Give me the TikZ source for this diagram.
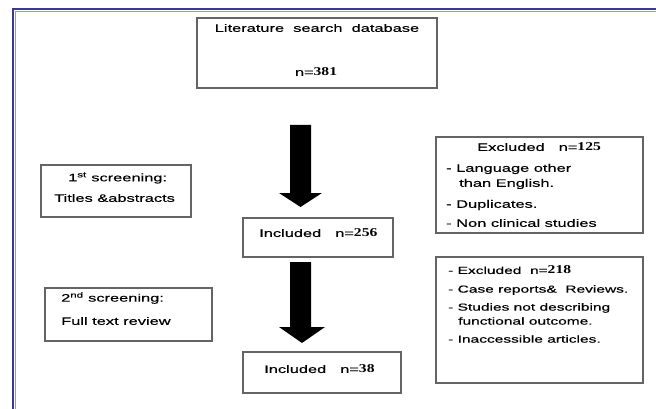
\documentclass[tikz,border=0pt]{standalone}
\usepackage{fontspec}
\setmainfont{Liberation Sans}
\newfontfamily\wf[FakeStretch=1.52,FakeBold=0.35]{Liberation Sans}
\newfontfamily\nf[FakeStretch=1.3]{Liberation Serif}
\definecolor{framedark}{RGB}{58,58,150}
\definecolor{framelight}{RGB}{150,150,210}
\definecolor{boxline}{RGB}{100,100,100}
\begin{document}
\begin{tikzpicture}[x=1pt,y=-1pt,
  box/.style={draw=boxline,line width=1.2pt,fill=white,inner sep=0pt},
  txt/.style={anchor=west,inner sep=0pt,font=\wf\fontsize{10.8}{12}\selectfont},
  stxt/.style={anchor=west,inner sep=0pt,font=\wf\fontsize{10.2}{12}\selectfont},
  ctxt/.style={anchor=center,inner sep=0pt,font=\wf\fontsize{10.8}{12}\selectfont},
  blockarrow/.style={fill=black,draw=none}]
\useasboundingbox (0,0) rectangle (656,409);
\fill[white] (0,0) rectangle (656,409);
% page frame
\draw[framedark,line width=2.2pt] (13,409) -- (13,9) -- (656,9);
\draw[framelight,line width=1pt] (15.6,409) -- (15.6,11.6) -- (656,11.6);
\newcommand{\num}[1]{{\nf\bfseries\fontsize{12}{12}\selectfont #1}}
\newcommand{\gap}{\hspace{14pt}}
% boxes
\node[box,minimum width=240pt,minimum height=70pt] (top) at (317,53) {};
\node[box,minimum width=150pt,minimum height=52pt] (scr1) at (116,191) {};
\node[box,minimum width=150pt,minimum height=39pt] (inc1) at (318,237.5) {};
\node[box,minimum width=207pt,minimum height=96pt] (exc1) at (539.5,185) {};
\node[box,minimum width=167pt,minimum height=53pt] (scr2) at (128.5,314.5) {};
\node[box,minimum width=158pt,minimum height=41pt] (inc2) at (322,372.5) {};
\node[box,minimum width=207pt,minimum height=126pt] (exc2) at (539.5,320) {};
% texts
\node[ctxt] (t1) at (317,28) {Literature\ \ search\ \ database};
\node[ctxt] (t2) at (316,72) {n=\num{381}};
\node[txt] (s1a) at (68,178) {1\textsuperscript{st} screening:};
\node[txt] (s1b) at (54,198) {Titles \&abstracts};
\node[txt] (i1) at (259,233) {Included\gap n=\num{256}};
\node[txt] (e1a) at (477,147) {Excluded\gap n=\num{125}};
\node[txt] (e1b) at (446,169) {- Language other};
\node[txt] (e1c) at (459,184) {than English.};
\node[txt] (e1d) at (446,205) {- Duplicates.};
\node[txt] (e1e) at (446,223) {- Non clinical studies};
\node[txt] (s2a) at (61,298) {2\textsuperscript{nd} screening:};
\node[txt] (s2b) at (61,321) {Full text review};
\node[txt] (i2) at (264,369) {Included\gap n=\num{38}};
\node[stxt] (e2a) at (448,270) {- Excluded\ \ n=\num{218}};
\node[stxt] (e2b) at (448,290) {- Case reports\&\ \ Reviews.};
\node[stxt] (e2c) at (448,308) {- Studies not describing};
\node[stxt] (e2d) at (458,321) {functional outcome.};
\node[stxt] (e2e) at (448,339) {- Inaccessible articles.};
% block arrows
\fill[blockarrow] (290,125) -- (311,125) -- (311,193) -- (322,193) -- (300.5,207) -- (279,193) -- (290,193) -- cycle;
\fill[blockarrow] (290,262) -- (311,262) -- (311,327) -- (325,327) -- (302,343) -- (279,327) -- (290,327) -- cycle;
\end{tikzpicture}
\end{document}
